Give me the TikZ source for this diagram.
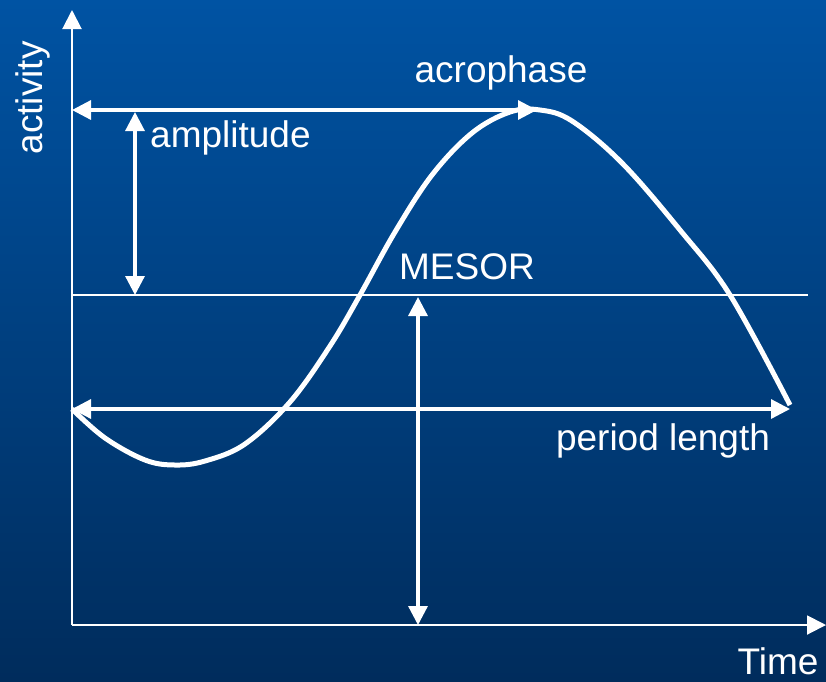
\documentclass[tikz,border=0pt]{standalone}
\usepackage{fontspec}
\setmainfont{Liberation Sans}
\usetikzlibrary{arrows.meta}
\definecolor{bgtop}{RGB}{0,83,163}
\definecolor{bgbot}{RGB}{0,44,92}
\tikzset{
  tip/.tip={Triangle[width=19pt,length=19pt]},
  axisline/.style={white,line width=2pt,-tip},
  guide/.style={white,line width=3.2pt,tip-tip},
  lbl/.style={white,font=\fontsize{37}{44}\selectfont,inner sep=0pt}
}
\begin{document}
\begin{tikzpicture}[x=1pt,y=-1pt]
  % Background: a vertical blue gradient, 826 by 681.
  \shade[top color=bgtop,bottom color=bgbot] (0,0) rectangle (826,681);
  \useasboundingbox (0,0) rectangle (826,681);

  % Axes.
  \coordinate (O) at (72,625);
  \coordinate (ytip) at (72,10);
  \coordinate (xtip) at (826,625);
  \draw[axisline] (O) -- (ytip);
  \draw[axisline] (O) -- (xtip);
  \node[lbl,rotate=90] (activity) at (33,98) {activity};
  \node[lbl] (time) at (778,661) {Time};

  % The MESOR level.
  \coordinate (mesL) at (72,295);
  \coordinate (mesR) at (808,295);
  \draw[white,line width=2pt] (mesL) -- (mesR);
  \node[lbl] (mesor) at (467,267) {MESOR};

  % The rhythm itself.
  \draw[white,line width=5pt,line join=round]
    plot[smooth,tension=0.6] coordinates {
      (72,409) (105,438) (145,460) (175,465) (205,461) (245,444)
      (290,402) (330,346) (360,295) (395,232) (432,175) (472,133)
      (510,112) (540,110) (572,121) (622,163) (680,230) (730,295)
      (790,405)};

  % Acrophase: from the axis to the peak.
  \coordinate (acroL) at (72,110);
  \coordinate (acroR) at (537,110);
  \draw[guide] (acroL) -- (acroR);
  \node[lbl] (acrophase) at (501,73) {acrophase};

  % Amplitude: from the peak level down to the MESOR.
  \coordinate (ampT) at (135,112);
  \coordinate (ampB) at (135,295);
  \draw[guide] (ampT) -- (ampB);
  \node[lbl,anchor=west] (amplitude) at (150,138) {amplitude};

  % MESOR above the time axis.
  \coordinate (levT) at (418,297);
  \coordinate (levB) at (418,625);
  \draw[guide] (levT) -- (levB);

  % Period length.
  \coordinate (perL) at (72,409);
  \coordinate (perR) at (790,409);
  \draw[guide] (perL) -- (perR);
  \node[lbl] (period) at (663,441) {period length};
\end{tikzpicture}
\end{document}
